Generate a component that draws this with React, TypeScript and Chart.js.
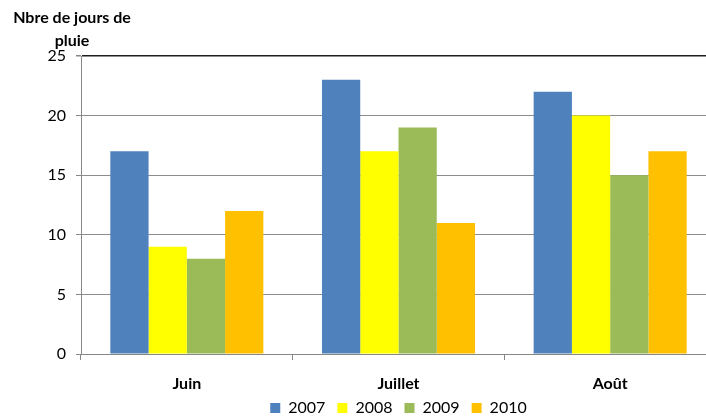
import React, { useEffect, useRef } from 'react';
import { Chart, registerables } from 'chart.js';

Chart.register(...registerables);

// Monthly rainy-day counts per year
const months = ['Juin', 'Juillet', 'Août'];
const years = ['2007', '2008', '2009', '2010'];
const rain2007 = [17, 23, 22];
const rain2008 = [9, 17, 20];
const rain2009 = [8, 19, 15];
const rain2010 = [12, 11, 17];
const yearColors = ['#4F81BD', '#FFFF00', '#9BBB59', '#FFC000'];
const yTicks = [0, 5, 10, 15, 20, 25];
const titleLines = ['Nbre de jours de', 'pluie'];

const FONT = 'Lato';

// Two-line axis caption above the value axis
const axisCaption = {
  id: 'axisCaption',
  afterDraw(chart: any) {
    const { ctx, chartArea } = chart;
    ctx.save();
    ctx.font = `bold 16px ${FONT}`;
    ctx.fillStyle = '#000';
    ctx.textAlign = 'center';
    ctx.textBaseline = 'middle';
    const cx = chartArea.left - 9;
    ctx.fillText(titleLines[0], cx, chartArea.top - 38);
    ctx.fillText(titleLines[1], cx, chartArea.top - 15);
    ctx.restore();
  },
};

// Center the legend under the plot area and pull it up slightly
const legendPlacement = {
  id: 'legendPlacement',
  afterLayout(chart: any) {
    const lg = chart.legend;
    if (!lg) return;
    const { chartArea } = chart;
    const dx = (chartArea.left + chartArea.right) / 2 - (lg.left + lg.right) / 2;
    const dy = -6;
    lg.left += dx;
    lg.right += dx;
    lg.top += dy;
    lg.bottom += dy;
  },
};

export default function App() {
  const canvasRef = useRef<HTMLCanvasElement | null>(null);

  useEffect(() => {
    if (!canvasRef.current) return;
    const series = [rain2007, rain2008, rain2009, rain2010];
    const chart = new Chart(canvasRef.current, {
      type: 'bar',
      data: {
        labels: months,
        datasets: years.map((y, i) => ({
          label: y,
          data: series[i],
          backgroundColor: yearColors[i],
          borderWidth: 0,
          categoryPercentage: 0.723,
          barPercentage: 1.0,
        })),
      },
      options: {
        responsive: false,
        animation: false,
        layout: { padding: { top: 56, right: 81, left: 0, bottom: -16 } },
        plugins: {
          tooltip: { enabled: false },
          legend: {
            position: 'bottom',
            labels: {
              boxWidth: 10,
              boxHeight: 10,
              padding: 12,
              color: '#000',
              font: { family: FONT, size: 16 },
            },
          },
        },
        scales: {
          x: {
            offset: true,
            grid: {
              offset: true,
              drawOnChartArea: false,
              drawTicks: true,
              tickLength: 6,
              color: '#878787',
            },
            border: { color: '#878787', width: 1 },
            ticks: {
              color: '#000',
              padding: 14,
              font: { family: FONT, size: 16, weight: 'bold' },
            },
            afterFit: (s: any) => {
              s.height = 40;
            },
          },
          y: {
            min: 0,
            max: 25,
            afterBuildTicks: (s: any) => {
              s.ticks = yTicks.map((v) => ({ value: v }));
            },
            grid: {
              color: (c: any) => (c.tick && c.tick.value === 25 ? '#1e1e1e' : '#8c8c8c'),
              tickColor: '#878787',
              tickLength: 5,
              lineWidth: (c: any) => (c.tick && c.tick.value === 25 ? 1.5 : 1),
            },
            border: { color: '#878787', width: 1 },
            ticks: {
              color: '#000',
              padding: 10,
              font: { family: FONT, size: 16 },
            },
            afterFit: (s: any) => {
              s.width = 81;
            },
          },
        },
      },
      plugins: [axisCaption, legendPlacement],
    } as any);
    return () => chart.destroy();
  }, []);

  return (
    <div
      style={{
        position: 'fixed',
        left: 0,
        top: 0,
        width: 706,
        height: 416,
        overflow: 'hidden',
        background: '#fff',
      }}
    >
      <canvas ref={canvasRef} width={797} height={416} style={{ width: 797, height: 416, display: 'block' }} />
    </div>
  );
}
